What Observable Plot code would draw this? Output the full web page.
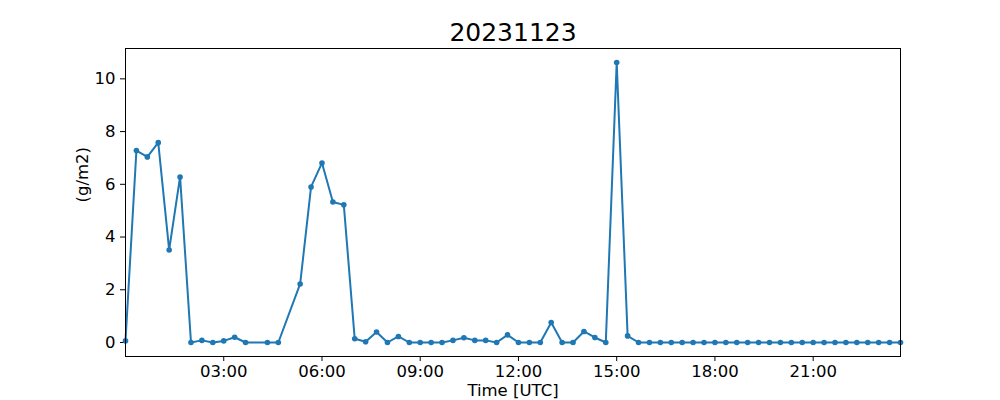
<!DOCTYPE html>
<html>
<head>
<meta charset="utf-8">
<script src="https://cdn.jsdelivr.net/npm/d3@7"></script>
<script src="https://cdn.jsdelivr.net/npm/@observablehq/plot@0.6"></script>
<style>
  html, body { margin: 0; padding: 0; background: #fff; }
  #chart svg { display: block; }
</style>
</head>
<body>
<div id="chart"></div>
<script>
const title = "20231123";
const xLabel = "Time [UTC]";
const yLabel = "(g/m2)";
const dateStr = "2023-11-23";

const times = [
  "00:00","00:20","00:40","01:00","01:20","01:40","02:00","02:20","02:40","03:00","03:20","03:40",
  "04:20","04:40","05:20","05:40","06:00","06:20","06:40","07:00","07:20","07:40","08:00","08:20",
  "08:40","09:00","09:20","09:40","10:00","10:20","10:40","11:00","11:20","11:40","12:00","12:20",
  "12:40","13:00","13:20","13:40","14:00","14:20","14:40","15:00","15:20","15:40","16:00","16:20",
  "16:40","17:00","17:20","17:40","18:00","18:20","18:40","19:00","19:20","19:40","20:00","20:20",
  "20:40","21:00","21:20","21:40","22:00","22:20","22:40","23:00","23:20","23:40"
];
const values = [
  0.06, 7.28, 7.04, 7.58, 3.51, 6.28, 0.0, 0.08, 0.0, 0.06, 0.2, 0.0,
  0.0, 0.0, 2.22, 5.9, 6.81, 5.33, 5.22, 0.14, 0.03, 0.4, 0.0, 0.23,
  0.0, 0.0, 0.0, 0.0, 0.08, 0.18, 0.08, 0.08, 0.0, 0.29, 0.0, 0.0,
  0.0, 0.76, 0.0, 0.0, 0.42, 0.19, 0.0, 10.62, 0.25, 0.0, 0.0, 0.0,
  0.0, 0.0, 0.0, 0.0, 0.0, 0.0, 0.0, 0.0, 0.0, 0.0, 0.0, 0.0,
  0.0, 0.0, 0.0, 0.0, 0.0, 0.0, 0.0, 0.0, 0.0, 0.0
];
const xTickTimes = ["03:00","06:00","09:00","12:00","15:00","18:00","21:00"];
const yTicks = [0, 2, 4, 6, 8, 10];

const toDate = t => new Date(`${dateStr}T${t}:00Z`);
const data = times.map((t, i) => ({t: toDate(t), v: values[i]}));
const xTicks = xTickTimes.map(toDate);

const vmin = d3.min(values), vmax = d3.max(values);
const pad = (vmax - vmin) * 0.05;

const color = "#1f77b4";

const chart = Plot.plot({
  width: 1000,
  height: 400,
  marginLeft: 125,
  marginRight: 100,
  marginTop: 48,
  marginBottom: 44,
  style: {fontFamily: "DejaVu Sans, sans-serif", fontSize: "16.5px", color: "#000", background: "#fff"},
  x: {type: "utc", domain: [data[0].t, data[data.length - 1].t]},
  y: {domain: [vmin - pad, vmax + pad]},
  marks: [
    Plot.axisX({ticks: xTicks, tickFormat: d3.utcFormat("%H:%M"), tickSize: 5, tickPadding: 4, label: null, fontSize: "16.5px"}),
    Plot.axisY({ticks: yTicks, tickSize: 5, tickPadding: 5, label: null, fontSize: "16.5px"}),
    Plot.line(data, {x: "t", y: "v", stroke: color, strokeWidth: 2}),
    Plot.dot(data, {x: "t", y: "v", fill: color, r: 2.8}),
    Plot.frame({stroke: "#000", strokeWidth: 1}),
    Plot.text([title], {frameAnchor: "top", dy: -16, lineAnchor: "middle", fontSize: 25, fill: "#000"}),
    Plot.text([xLabel], {frameAnchor: "bottom", dy: 34, lineAnchor: "middle", fontSize: 16.5, fill: "#000"}),
    Plot.text([yLabel], {frameAnchor: "left", dx: -43, rotate: -90, lineAnchor: "middle", fontSize: 16.5, fill: "#000"})
  ]
});
document.getElementById("chart").appendChild(chart);
</script>
</body>
</html>
